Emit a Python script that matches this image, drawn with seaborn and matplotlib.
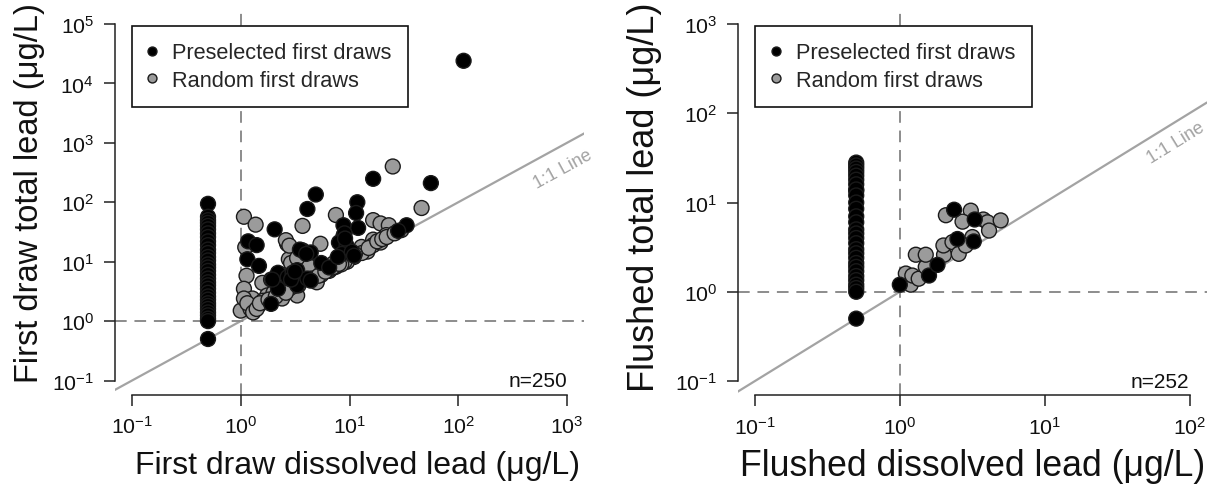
import math
import numpy as np
import pandas as pd
import matplotlib
matplotlib.use("Agg")
import matplotlib.pyplot as plt
import seaborn as sns
from matplotlib.ticker import NullLocator, LogFormatterSciNotation

# ---------------- data ----------------
group_names = ["Preselected first draws", "Random first draws"]

# First draw panel, preselected (black)
fd_pre_dissolved = [0.5, 0.5, 0.5, 0.5, 0.5, 0.5, 0.5, 0.5, 0.5, 0.5, 0.5, 0.5, 0.5, 0.5,
                    0.5, 0.5, 0.5, 0.5, 0.5, 0.5, 0.5, 0.5, 0.5, 0.5, 0.5, 0.5, 0.5, 0.5,
                    0.5, 0.5, 0.5, 0.5, 0.5,
                    4.9, 4.1, 2.05, 1.17, 1.40, 1.15, 1.47, 1.9, 2.2, 3.3, 3.7, 4.4, 3.3,
                    4.1, 4.4, 2.2, 11.8, 11.5, 12.0, 8.8, 8.8, 8.0, 9.4, 8.5, 10.5, 16.5,
                    56.0, 33.5, 28.0, 112.0, 2.7, 3.0, 5.5, 6.5, 3.5, 4.0, 9.0, 7.8, 2.9,
                    1.95, 9.1, 11.0, 3.15]
fd_pre_total = [94, 57, 50, 45, 40, 35, 30, 26, 22, 19, 16, 14, 12, 10.5,
                9, 8, 7, 6, 5.2, 4.5, 4, 3.5, 3, 2.6, 2.3, 2.0, 1.8, 1.6,
                1.4, 1.25, 1.1, 1.0, 0.5,
                135, 77, 35, 22, 19, 11, 8.5, 1.95, 6.5, 7.2, 15.5, 14.3, 4.0,
                5.2, 4.8, 3.5, 100, 66, 37, 41, 27, 21, 18.5, 13.5, 14.7, 248,
                210, 41, 33, 24000, 5.5, 6.5, 9.5, 8.0, 16, 13.5, 30, 12, 5.0,
                5.0, 24.5, 12.6, 6.8]

# First draw panel, random (grey)
fd_rand_dissolved = [1.07, 1.37, 3.7, 7.5, 25.0, 46.0, 16.5, 19.3, 23.0, 21.8, 16.5, 12.9,
                     16.5, 11.0, 9.5, 7.5, 1.1, 2.67, 2.6, 5.4, 2.77, 1.13, 1.58, 1.07,
                     1.0, 1.23, 1.47, 2.4, 1.75, 2.3, 5.0, 3.3, 6.2, 7.6, 3.6, 5.0, 2.77,
                     1.28, 1.07, 2.2, 7.1, 14.6, 19.3, 1.15, 1.3, 1.6, 2.0, 3.0, 4.0, 5.5,
                     6.5, 9.0, 11.0, 13.0, 15.0, 18.0, 20.0, 22.0, 26.0, 30.0, 11.2, 1.9,
                     2.5, 3.2, 4.2, 1.4, 6.8, 8.4, 2.8,
                     1.5, 1.8, 2.1, 2.6, 3.4, 4.5, 5.2, 6.0, 7.0, 8.0, 2.9, 3.3]
fd_rand_total = [57, 42, 40, 61, 400, 80, 50, 44, 41, 28, 23.5, 17.7,
                 19, 12, 10, 8.2, 17.5, 20, 23, 20, 11, 5.8, 4.4, 3.5,
                 1.5, 1.6, 1.85, 2.4, 2.7, 4.3, 4.5, 2.7, 7.6, 8.7, 4.8, 6.8, 3.5,
                 2.4, 2.4, 3.2, 9.3, 14.8, 21, 2.0, 1.4, 2.2, 3.0, 3.8, 5.5, 6.0,
                 7.0, 10, 13, 14, 17, 22, 24, 26, 30, 34, 13.5, 5.0,
                 6.0, 10, 8.5, 1.6, 7.6, 9.0, 18.6,
                 2.0, 2.3, 2.6, 3.0, 4.0, 5.2, 5.8, 6.8, 8.0, 9.2, 9.5, 11.5]

# Flushed panel, preselected (black)
fl_pre_dissolved = [0.5, 0.5, 0.5, 0.5, 0.5, 0.5, 0.5, 0.5, 0.5, 0.5, 0.5, 0.5, 0.5, 0.5,
                    0.5, 0.5, 0.5, 0.5, 0.5, 0.5, 0.5, 0.5, 0.5, 0.5, 0.5, 0.5, 0.5, 0.5,
                    0.5,
                    1.0, 1.59, 1.82, 2.5, 3.24, 2.37, 3.29]
fl_pre_total = [28, 26, 24, 22, 20, 18, 16, 14, 12, 10, 8.5, 7, 6, 5,
                4.5, 4, 3.5, 3, 2.7, 2.4, 2.1, 1.9, 1.7, 1.5, 1.35, 1.2, 1.1, 1.0,
                0.5,
                1.2, 1.52, 2.0, 3.9, 3.66, 8.3, 6.45]

# Flushed panel, random (grey)
fl_rand_dissolved = [0.5, 1.19, 1.1, 1.22, 1.35, 1.51, 1.29, 1.51, 2.02, 2.0, 2.31, 2.55,
                     3.17, 2.85, 2.08, 3.09, 2.71, 3.77, 4.03, 4.13, 4.97]
fl_rand_total = [13.5, 1.2, 1.6, 1.52, 1.4, 1.9, 2.6, 2.6, 2.6, 3.3, 3.6, 2.66,
                 4.1, 3.3, 7.2, 8.1, 6.1, 6.45, 6.0, 4.85, 6.3]

# ---------------- styling ----------------
sns.set_style("ticks")
plt.rcParams["font.family"] = ["Liberation Sans", "DejaVu Sans"]
plt.rcParams["mathtext.default"] = "regular"

BLACK = "#000000"
GREY = "#9b9b9b"
EDGE = "#1a1a1a"
palette = {group_names[0]: BLACK, group_names[1]: GREY}

fig = plt.figure(figsize=(12.08, 4.89), dpi=100)
ax1 = fig.add_axes([114.6 / 1208, 1 - 395.8 / 489, 469.8 / 1208, 385.1 / 489])
ax2 = fig.add_axes([737.6 / 1208, 1 - 396.3 / 489, 469.3 / 1208, 385.6 / 489])


def make_df(pre_x, pre_y, rnd_x, rnd_y):
    d_r = pd.DataFrame({"dissolved": rnd_x, "total": rnd_y, "group": group_names[1]})
    d_p = pd.DataFrame({"dissolved": pre_x, "total": pre_y, "group": group_names[0]})
    return pd.concat([d_r, d_p], ignore_index=True)


panels = [
    dict(ax=ax1, df=make_df(fd_pre_dissolved, fd_pre_total, fd_rand_dissolved, fd_rand_total),
         xt=[0.1, 1, 10, 100, 1000], yt=[0.1, 1, 10, 100, 1e3, 1e4, 1e5],
         xlab="First draw dissolved lead (\u03bcg/L)", ylab="First draw total lead (\u03bcg/L)",
         xlabsize=23, ylabsize=23.5, n="n=250", xlabpos=(0.516, -0.183), ylabpos=(-0.181, 0.527),
         linepos=10 ** 2.87, lineoff=14.5, legx=0.0364),
    dict(ax=ax2, df=make_df(fl_pre_dissolved, fl_pre_total, fl_rand_dissolved, fl_rand_total),
         xt=[0.1, 1, 10, 100], yt=[0.1, 1, 10, 100, 1e3],
         xlab="Flushed dissolved lead (\u03bcg/L)", ylab="Flushed total lead (\u03bcg/L)",
         xlabsize=25.7, ylabsize=26, n="n=252", xlabpos=(0.50, -0.183), ylabpos=(-0.198, 0.515),
         linepos=10 ** 1.84, lineoff=12.6, legx=0.038),
]

for p in panels:
    ax = p["ax"]
    xt, yt = p["xt"], p["yt"]
    ax.set_xscale("log")
    ax.set_yscale("log")
    lx0, lx1 = math.log10(xt[0]), math.log10(xt[-1])
    ly0, ly1 = math.log10(yt[0]), math.log10(yt[-1])
    ex, ey = 0.04 * (lx1 - lx0), 0.04 * (ly1 - ly0)
    ax.set_xlim(10 ** (lx0 - ex), 10 ** (lx1 + ex))
    ax.set_ylim(10 ** (ly0 - ey), 10 ** (ly1 + ey))

    # reference lines
    ax.axline((1, 1), (10, 10), color="#a3a3a3", lw=1.6, zorder=1)
    ax.axhline(1, color="#8c8c8c", lw=1.4, ls=(0, (6, 4)), zorder=1)
    ax.axvline(1, color="#8c8c8c", lw=1.4, ls=(0, (6, 4)), zorder=1)

    sns.scatterplot(data=p["df"], x="dissolved", y="total", hue="group",
                    hue_order=group_names, palette=palette, s=115,
                    edgecolor=EDGE, linewidth=1.0, alpha=1, ax=ax, zorder=3)

    ax.set_xticks(xt)
    ax.set_yticks(yt)
    ax.xaxis.set_minor_locator(NullLocator())
    ax.yaxis.set_minor_locator(NullLocator())
    ax.xaxis.set_major_formatter(LogFormatterSciNotation())
    ax.yaxis.set_major_formatter(LogFormatterSciNotation())
    for s in ["top", "right"]:
        ax.spines[s].set_visible(False)
    for s in ["left", "bottom"]:
        ax.spines[s].set_color("#222222")
        ax.spines[s].set_linewidth(1.1)
    ax.spines["left"].set_bounds(yt[0], yt[-1])
    ax.spines["bottom"].set_bounds(xt[0], xt[-1])
    ax.tick_params(axis="both", which="major", direction="out", length=7.7, width=1.1,
                   color="#222222", labelsize=15.3, labelcolor="#111111", pad=7,
                   top=False, right=False)

    ax.set_xlabel(p["xlab"], fontsize=p["xlabsize"], color="#111111")
    ax.set_ylabel(p["ylab"], fontsize=p["ylabsize"], color="#111111")
    ax.xaxis.label.set_va("center")
    ax.yaxis.label.set_va("center")
    ax.xaxis.set_label_coords(*p["xlabpos"])
    ax.yaxis.set_label_coords(*p["ylabpos"])

    # legend
    h, l = ax.get_legend_handles_labels()
    leg = ax.legend(h, l, loc="upper left", bbox_to_anchor=(p["legx"], 0.957), fontsize=15.7,
                    frameon=True, fancybox=False, edgecolor="#111111", framealpha=1,
                    markerscale=0.6, borderpad=0.74, labelspacing=0.3,
                    handletextpad=0.72, handlelength=0.4, borderaxespad=0)
    leg.get_frame().set_linewidth(1.2)

    ax.text(xt[-1], yt[0], p["n"], ha="right", va="center", fontsize=15, color="#111111")

for p in panels:
    ax = p["ax"]
    a = ax.transData.transform((1, 1))
    b = ax.transData.transform((10, 10))
    ang = math.degrees(math.atan2(b[1] - a[1], b[0] - a[0]))
    off = p["lineoff"]
    ax.annotate("1:1 Line", xy=(p["linepos"], p["linepos"]),
                xytext=(off * math.sin(math.radians(ang)), -off * math.cos(math.radians(ang))),
                textcoords="offset points", ha="center", va="center", rotation=ang,
                rotation_mode="anchor", fontsize=13, color="#a3a3a3")

fig.savefig("out.png", dpi=100)
